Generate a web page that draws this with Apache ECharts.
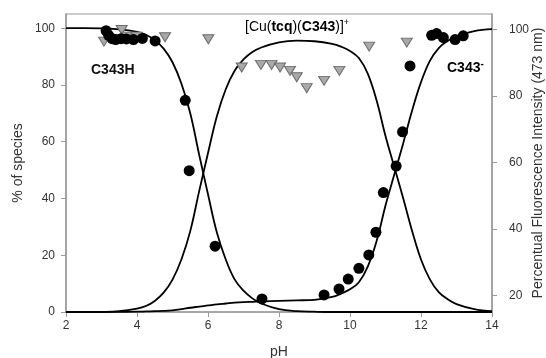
<!DOCTYPE html>
<html>
<head>
<meta charset="utf-8">
<script src="https://cdn.jsdelivr.net/npm/echarts@6/dist/echarts.min.js"></script>
<style>
html,body{margin:0;padding:0;background:#fff;}
#chart{width:546px;height:358px;}
</style>
</head>
<body>
<div id="chart"></div>
<script>
// pH grid for the fitted species curves
var curvePH = [2, 2.5, 3, 3.5, 4, 4.25, 4.5, 4.75, 5, 5.25, 5.5, 5.75, 6, 6.25, 6.5, 6.75, 7, 7.25, 7.5, 8, 8.5, 9, 9.5, 9.75, 10, 10.25, 10.5, 10.75, 11, 11.25, 11.5, 11.75, 12, 12.25, 12.5, 12.75, 13, 13.5, 14];
var speciesC343H = [100, 100, 99.9, 99.6, 98.7, 97.7, 95.8, 92.8, 88, 80.5, 70, 55.5, 41.5, 28, 18.5, 11.5, 7.5, 4.8, 3, 1, 0.3, 0.1, 0, 0, 0, 0, 0, 0, 0, 0, 0, 0, 0, 0, 0, 0, 0, 0, 0];
var speciesComplex = [0, 0, 0.05, 0.3, 1.2, 2.1, 3.9, 6.8, 11.4, 18.5, 28.5, 42.5, 56, 69, 78.5, 85, 89, 91.6, 93.2, 95, 95.6, 95.4, 94.5, 93.5, 92, 89.5, 84, 74.5, 62, 51, 40, 28.5, 18.5, 11.5, 7, 4.5, 2.8, 1, 0.3];
var speciesC343m = [0, 0, 0, 0.05, 0.1, 0.2, 0.3, 0.4, 0.6, 1.0, 1.5, 1.9, 2.3, 2.7, 3.0, 3.3, 3.5, 3.6, 3.7, 3.9, 4.1, 4.3, 5.3, 6.5, 8, 10.5, 16, 25, 37.5, 48.5, 59.5, 71, 81, 88.5, 93, 95.5, 97.2, 99, 99.7];

// measured points (black circles, % scale)
var circlePH = [3.13, 3.2, 3.3, 3.4, 3.55, 3.7, 3.9, 4.15, 4.51, 5.36, 5.47, 6.2, 7.52, 9.27, 9.69, 9.95, 10.25, 10.53, 10.73, 10.94, 11.3, 11.48, 11.69, 12.3, 12.44, 12.63, 12.96, 13.19];
var circleVal = [99.1, 97.5, 96.3, 96.0, 96.3, 96.2, 96.0, 96.4, 95.5, 74.6, 49.8, 23.2, 4.6, 6.0, 8.1, 11.6, 15.4, 20.1, 28.1, 42.1, 51.4, 63.5, 86.7, 97.5, 98.1, 96.7, 96.0, 97.3];

// fluorescence (grey triangles, right axis)
var triPH = [3.07, 3.57, 3.71, 3.99, 4.79, 6.01, 6.95, 7.49, 7.79, 8.03, 8.31, 8.5, 8.78, 9.27, 9.7, 10.54, 11.6];
var triVal = [96.3, 99.8, 97.8, 97.8, 97.6, 97.0, 88.5, 89.3, 89.3, 88.5, 87.5, 85.6, 82.3, 84.5, 87.5, 94.8, 96.0];

var xTicks = [2, 4, 6, 8, 10, 12, 14];
var leftTicks = [0, 20, 40, 60, 80, 100];
var rightTicks = [20, 40, 60, 80, 100];

function pairs(xs, ys){ return xs.map(function(x,i){ return [x, ys[i]]; }); }

var FONT = '"Liberation Sans", Arial, sans-serif';
var axisGray = '#9a9a9a';

var chart = echarts.init(document.getElementById('chart'), null, {renderer:'canvas'});
var lineStyle = {color:'#000', width:1.8};
chart.setOption({
  animation:false,
  backgroundColor:'#fff',
  grid:{left:66, right:54, top:14, bottom:46, show:true, borderColor:axisGray, borderWidth:1.2,
        containLabel:false, outerBoundsMode:'none'},
  xAxis:{
    type:'value', min:2, max:14, interval:2,
    name:'pH', nameLocation:'middle', nameGap:33, nameMoveOverlap:false,
    nameTextStyle:{fontFamily:FONT, fontSize:14, color:'#333'},
    axisLine:{lineStyle:{color:axisGray, width:1.5}},
    axisTick:{length:5, lineStyle:{color:axisGray}},
    axisLabel:{margin:8, fontFamily:FONT, fontSize:12, color:'#333'},
    splitLine:{show:false}
  },
  yAxis:[{
    type:'value', min:0, max:105, position:'left',
    name:'% of species', nameLocation:'middle', nameGap:41, nameMoveOverlap:false,
    nameTextStyle:{fontFamily:FONT, fontSize:14, color:'#333'},
    axisLine:{show:true, lineStyle:{color:axisGray, width:1.5}},
    axisTick:{show:true, length:5, customValues:leftTicks, lineStyle:{color:axisGray}},
    axisLabel:{margin:11, fontFamily:FONT, fontSize:12, color:'#333', customValues:leftTicks},
    splitLine:{show:false}
  },{
    type:'value', min:15, max:104.6, position:'right',
    name:'Percentual Fluorescence Intensity (473 nm)', nameLocation:'middle', nameGap:39, nameMoveOverlap:false,
    nameRotate:90,
    nameTextStyle:{fontFamily:FONT, fontSize:14, color:'#333'},
    axisLine:{show:true, lineStyle:{color:axisGray, width:1.5}},
    axisTick:{show:true, length:5, customValues:rightTicks, lineStyle:{color:axisGray}},
    axisLabel:{margin:17, fontFamily:FONT, fontSize:12, color:'#333', customValues:rightTicks},
    splitLine:{show:false}
  }],
  series:[
    {type:'line', data:pairs(curvePH, speciesC343H), smooth:0.4, showSymbol:false, lineStyle:lineStyle, z:3},
    {type:'line', data:pairs(curvePH, speciesComplex), smooth:0.4, showSymbol:false, lineStyle:lineStyle, z:3},
    {type:'line', data:pairs(curvePH, speciesC343m), smooth:0.4, showSymbol:false, lineStyle:lineStyle, z:3},
    {type:'scatter', yAxisIndex:1, data:pairs(triPH, triVal), symbol:'triangle', symbolRotate:180, symbolSize:[11,9],
      itemStyle:{color:'#a9a9a9', borderColor:'#6a6a6a', borderWidth:1, opacity:1}, z:4},
    {type:'scatter', yAxisIndex:0, data:pairs(circlePH, circleVal), symbol:'circle', symbolSize:11,
      itemStyle:{color:'#000', opacity:1}, z:5}
  ],
  graphic:[
    {type:'text', left:91, top:63, style:{text:'C343H', font:'bold 14px '+FONT, fill:'#111'}},
    {type:'text', left:245, top:18, style:{
      text:'{n|[Cu(}{b|tcq}{n|)(}{b|C343}{n|)]}{s|+}',
      rich:{
        n:{fontFamily:FONT, fontSize:14, fontWeight:'normal', color:'#222', lineHeight:18},
        b:{fontFamily:FONT, fontSize:14, fontWeight:'bold', color:'#222', lineHeight:18},
        s:{fontFamily:FONT, fontSize:9, color:'#222', verticalAlign:'top', lineHeight:18, padding:[0,0,8,0]}
      }}},
    {type:'text', left:447, top:59, style:{
      text:'{b|C343}{s|-}',
      rich:{
        b:{fontFamily:FONT, fontSize:14, fontWeight:'bold', color:'#111', lineHeight:18},
        s:{fontFamily:FONT, fontSize:10, fontWeight:'bold', color:'#111', lineHeight:18, padding:[0,0,8,0]}
      }}}
  ]
});
</script>
</body>
</html>
